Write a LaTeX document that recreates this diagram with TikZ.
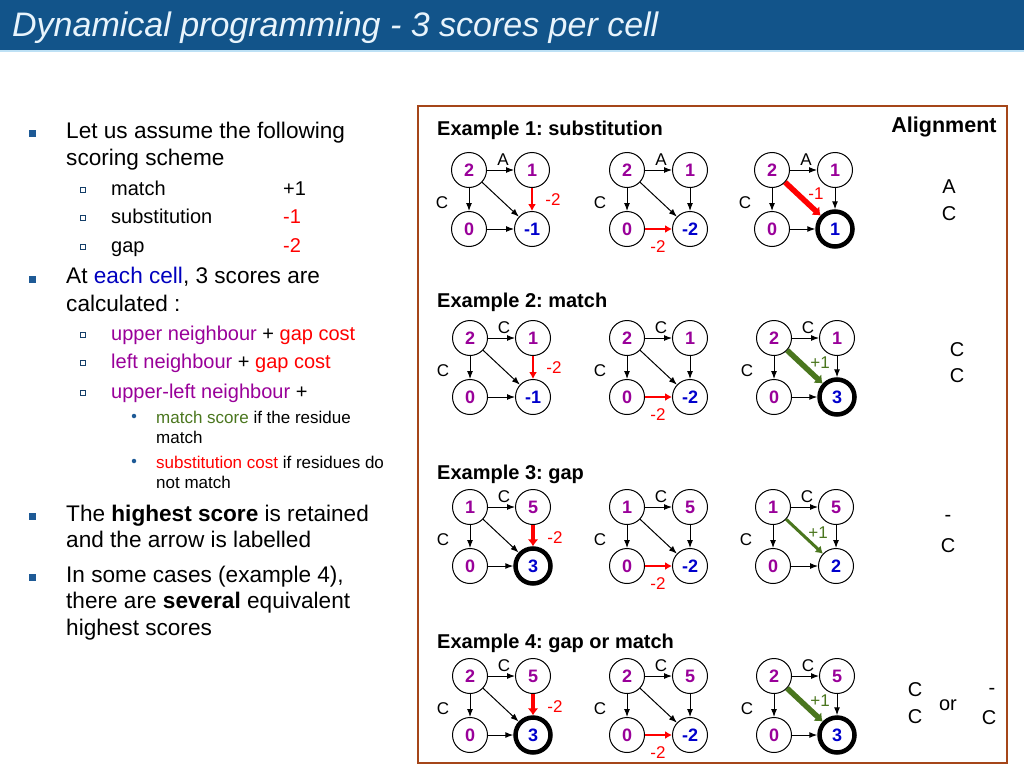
\documentclass[tikz,border=0pt]{standalone}
\usepackage{fontspec}
\setmainfont{Liberation Sans}
\usetikzlibrary{arrows.meta}
\definecolor{titlebg}{RGB}{18,84,138}
\definecolor{titlefg}{RGB}{232,244,252}
\definecolor{titleline}{RGB}{190,225,245}
\definecolor{purp}{RGB}{153,0,153}
\definecolor{dblue}{RGB}{0,0,204}
\definecolor{grn}{RGB}{74,118,30}
\definecolor{boxbrown}{RGB}{165,70,25}
\definecolor{bulblue}{RGB}{30,90,150}
\definecolor{cellblue}{RGB}{0,0,190}
\newcommand\fs[1]{\fontsize{#1}{#1}\selectfont}
\newcommand\dpnodes[9]{%
 \node[cell] (#1tl) at (#2,#3) {\textcolor{purp}{#4}};
 \node[cell] (#1tr) at (#2+63,#3) {\textcolor{purp}{#5}};
 \node[cell] (#1bl) at (#2,#3+59) {\textcolor{purp}{#6}};
 \node[cell,#9] (#1br) at (#2+63,#3+59) {\textcolor{dblue}{#7}};
 \node[lett] (#1lt) at (#2+34,#3-10) {#8};
 \node[lett] (#1ll) at (#2-27,#3+33) {C};
}
\newcommand\dpedges[6]{%
 \draw[edge,#2] (#1tl) -- (#1tr);
 \draw[edge,#3] (#1tl) -- (#1bl);
 \draw[edge,#4] (#1tl) -- (#1br);
 \draw[edge,#5] (#1tr) -- (#1br);
 \draw[edge,#6] (#1bl) -- (#1br);
}
\frenchspacing
\begin{document}
\begin{tikzpicture}[x=1pt,y=-1pt,
 cell/.style={circle,draw,line width=1pt,minimum size=35pt,inner sep=0pt,font=\fs{18}\bfseries},
 sel/.style={line width=4.5pt},
 lett/.style={inner sep=0pt,font=\fs{17}},
 elab/.style={inner sep=0pt,font=\fs{17}},
 edge/.style={line width=1pt,-{Latex[length=8pt,width=6pt]}},
 plain/.style={},
 redmid/.style={red,line width=2.6pt,-{Latex[length=7pt,width=8pt]}},
 redthick/.style={red,line width=4.5pt,-{Latex[length=7pt,width=11pt]}},
 redvthick/.style={red,line width=5.5pt,-{Latex[length=7pt,width=12pt]}},
 grnmid/.style={grn,line width=3pt,-{Latex[length=7pt,width=9pt]}},
 grnthick/.style={grn,line width=5.5pt,-{Latex[length=7pt,width=12pt]}},
 txt/.style={anchor=base west,inner sep=0pt},
 main/.style={txt,font=\fs{22.6}},
 sub/.style={txt,font=\fs{20}},
 subsub/.style={txt,font=\fs{17}},
 bul/.style={rectangle,fill=bulblue,minimum size=7pt,inner sep=0pt},
 hbul/.style={rectangle,draw=bulblue!70!black,fill=white,line width=0.6pt,minimum size=5.5pt,inner sep=0pt},
 dotb/.style={circle,fill=bulblue,minimum size=4.5pt,inner sep=0pt},
 exhead/.style={txt,font=\fs{20}\bfseries},
 aln/.style={inner sep=0pt,font=\fs{20}}]
\useasboundingbox (0,0) rectangle (1024,768);
% title bar
\fill[titlebg] (0,0) rectangle (1024,50);
\fill[titleline] (0,50) rectangle (1024,52);
\node[txt,font=\fs{34}\itshape,text=titlefg] (title) at (12,37) {Dynamical programming - 3 scores per cell};
% left text
\node[bul] (b1) at (32,133) {};
\node[main] (t1) at (66,138) {Let us assume the following};
\node[main] (t2) at (66,165) {scoring scheme};
\node[hbul] (s1) at (83,190) {};
\node[sub] (t3) at (111,195) {match};
\node[sub] (t3v) at (283,195) {+1};
\node[hbul] (s2) at (83,218) {};
\node[sub] (t4) at (111,223) {substitution};
\node[sub,text=red] (t4v) at (283,223) {-1};
\node[hbul] (s3) at (83,247) {};
\node[sub] (t5) at (111,252) {gap};
\node[sub,text=red] (t5v) at (283,252) {-2};
\node[bul] (b2) at (32,279) {};
\node[main] (t6) at (66,283) {At \textcolor{cellblue}{each cell}, 3 scores are};
\node[main] (t7) at (66,311) {calculated :};
\node[hbul] (s4) at (83,335) {};
\node[sub] (t8) at (111,340) {\textcolor{purp}{upper neighbour} + \textcolor{red}{gap cost}};
\node[hbul] (s5) at (83,363) {};
\node[sub] (t9) at (111,368) {\textcolor{purp}{left neighbour} + \textcolor{red}{gap cost}};
\node[hbul] (s6) at (83,393) {};
\node[sub] (t10) at (111,398) {\textcolor{purp}{upper-left neighbour} +};
\node[dotb] (d1) at (134,416) {};
\node[subsub] (t11) at (156,423) {\textcolor{grn}{match score} if the residue};
\node[subsub] (t12) at (156,443) {match};
\node[dotb] (d2) at (134,461) {};
\node[subsub] (t13) at (156,468) {\textcolor{red}{substitution cost} if residues do};
\node[subsub] (t14) at (156,488) {not match};
\node[bul] (b3) at (32,516) {};
\node[main] (t15) at (66,521) {The \textbf{highest score} is retained};
\node[main] (t16) at (66,547) {and the arrow is labelled};
\node[bul] (b4) at (32,577) {};
\node[main] (t17) at (66,582) {In some cases (example 4),};
\node[main] (t18) at (66,608) {there are \textbf{several} equivalent};
\node[main] (t19) at (66,635) {highest scores};
% box
\draw[boxbrown,line width=2.5pt] (418,106) rectangle (1007,763);
\node[anchor=base,inner sep=0pt,font=\fs{21.5}\bfseries] (alh) at (944,132) {Alignment};
% Example 1
\node[exhead] (h1) at (437,135) {Example 1: substitution};
\dpnodes{aa}{469}{170}{2}{1}{0}{-1}{A}{plain}
\dpedges{aa}{plain}{plain}{plain}{redmid}{plain}
\node[elab,red] (aaL) at (469+84,170+30) {-2};
\dpnodes{ab}{627}{170}{2}{1}{0}{-2}{A}{plain}
\dpedges{ab}{plain}{plain}{plain}{plain}{redmid}
\node[elab,red] (abL) at (627+31,170+77) {-2};
\dpnodes{ac}{772}{170}{2}{1}{0}{1}{A}{sel}
\dpedges{ac}{plain}{plain}{redvthick}{plain}{plain}
\node[elab,red] (acL) at (772+44,170+24) {-1};
\node[aln] (al1a) at (949,187) {A};
\node[aln] (al1b) at (949,214) {C};
% Example 2
\node[exhead] (h2) at (437,307) {Example 2: match};
\dpnodes{ba}{470}{338}{2}{1}{0}{-1}{C}{plain}
\dpedges{ba}{plain}{plain}{plain}{redmid}{plain}
\node[elab,red] (baL) at (470+84,338+30) {-2};
\dpnodes{bb}{627}{338}{2}{1}{0}{-2}{C}{plain}
\dpedges{bb}{plain}{plain}{plain}{plain}{redmid}
\node[elab,red] (bbL) at (627+31,338+77) {-2};
\dpnodes{bc}{774}{338}{2}{1}{0}{3}{C}{sel}
\dpedges{bc}{plain}{plain}{grnthick}{plain}{plain}
\node[elab,grn] (bcL) at (774+46,338+25) {+1};
\node[aln] (al2a) at (957,350) {C};
\node[aln] (al2b) at (957,376) {C};
% Example 3
\node[exhead] (h3) at (437,479) {Example 3: gap};
\dpnodes{ca}{470}{507}{1}{5}{0}{3}{C}{sel}
\dpedges{ca}{plain}{plain}{plain}{redthick}{plain}
\node[elab,red] (caL) at (470+85,507+31) {-2};
\dpnodes{cb}{627}{507}{1}{5}{0}{-2}{C}{plain}
\dpedges{cb}{plain}{plain}{plain}{plain}{redmid}
\node[elab,red] (cbL) at (627+31,507+77) {-2};
\dpnodes{cc}{773}{507}{1}{5}{0}{2}{C}{plain}
\dpedges{cc}{plain}{plain}{grnmid}{plain}{plain}
\node[elab,grn] (ccL) at (773+45,507+26) {+1};
\node[aln] (al3a) at (948,518) {-};
\node[aln] (al3b) at (948,546) {C};
% Example 4
\node[exhead] (h4) at (437,648) {Example 4: gap or match};
\dpnodes{da}{470}{676}{2}{5}{0}{3}{C}{sel}
\dpedges{da}{plain}{plain}{plain}{redthick}{plain}
\node[elab,red] (daL) at (470+85,676+31) {-2};
\dpnodes{db}{627}{676}{2}{5}{0}{-2}{C}{plain}
\dpedges{db}{plain}{plain}{plain}{plain}{redmid}
\node[elab,red] (dbL) at (627+31,676+77) {-2};
\dpnodes{dc}{774}{676}{2}{5}{0}{3}{C}{sel}
\dpedges{dc}{plain}{plain}{grnthick}{plain}{plain}
\node[elab,grn] (dcL) at (774+46,676+25) {+1};
\node[aln] (al4a) at (915,690) {C};
\node[aln] (al4b) at (915,717) {C};
\node[aln] (al4or) at (948,705) {or};
\node[aln] (al4c) at (992,691) {-};
\node[aln] (al4d) at (989,718) {C};
\end{tikzpicture}
\end{document}
